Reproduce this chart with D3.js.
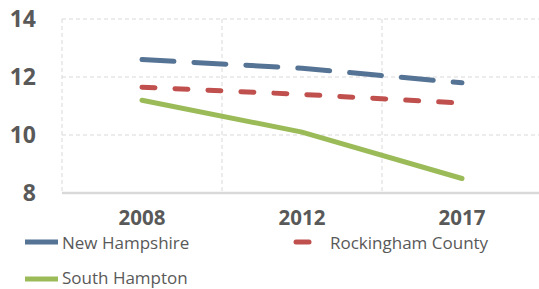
<!DOCTYPE html>
<html>
<head>
<meta charset="utf-8">
<script src="https://cdn.jsdelivr.net/npm/d3@7"></script>
<style>
  body { margin: 0; background: #fff; }
  svg { display: block; }
</style>
</head>
<body>
<div id="chart"></div>
<script>
// chart data
var years = ["2008", "2012", "2017"];
var newHampshire = [12.6, 12.3, 11.8];
var rockingham = [11.65, 11.4, 11.1];
var southHampton = [11.2, 10.1, 8.5];
var yTicks = [8, 10, 12, 14];

var WIDTH = 539, HEIGHT = 289;
var series = [
    { name: "New Hampshire", values: newHampshire, color: "#557394", dash: "32,20" },
    { name: "Rockingham County", values: rockingham, color: "#c0504d", dash: "13,20" },
    { name: "South Hampton", values: southHampton, color: "#9bbb59", dash: null }
];

var svg = d3.select("#chart").append("svg")
    .attr("width", WIDTH)
    .attr("height", HEIGHT);

var x = d3.scaleBand().domain(years).range([62, 542]);
var y = d3.scaleLinear().domain([8, 14]).range([193, 19]);
var cx = function (d) { return x(d) + x.bandwidth() / 2; };

// horizontal gridlines
svg.append("g").selectAll("line")
    .data(yTicks.filter(function (d) { return d > 8; }))
    .enter().append("line")
    .attr("x1", 62).attr("x2", 542)
    .attr("y1", function (d) { return y(d); })
    .attr("y2", function (d) { return y(d); })
    .attr("stroke", "#d9d9d9")
    .attr("stroke-dasharray", "4,3");

// vertical gridlines at category edges
svg.append("g").selectAll("line")
    .data(years)
    .enter().append("line")
    .attr("x1", function (d) { return x(d); })
    .attr("x2", function (d) { return x(d); })
    .attr("y1", y(14)).attr("y2", y(8))
    .attr("stroke", "#d9d9d9")
    .attr("stroke-dasharray", "4,3");

// baseline
svg.append("line")
    .attr("x1", 62).attr("x2", 542)
    .attr("y1", y(8)).attr("y2", y(8))
    .attr("stroke", "#d9d9d9")
    .attr("stroke-width", 2.5);

// y labels
svg.append("g").selectAll("text")
    .data(yTicks)
    .enter().append("text")
    .attr("x", 36)
    .attr("y", function (d) { return y(d); })
    .attr("dy", "0.36em")
    .attr("text-anchor", "end")
    .attr("font-family", "'Open Sans', sans-serif")
    .attr("font-weight", "bold")
    .attr("font-size", 23)
    .attr("fill", "#595959")
    .text(function (d) { return d; });

// x labels
svg.append("g").selectAll("text")
    .data(years)
    .enter().append("text")
    .attr("x", cx)
    .attr("y", 224.5)
    .attr("text-anchor", "middle")
    .attr("font-family", "'Open Sans', sans-serif")
    .attr("font-weight", "bold")
    .attr("font-size", 20.5)
    .attr("fill", "#595959")
    .text(function (d) { return d; });

// lines
var line = d3.line()
    .x(function (d, i) { return cx(years[i]); })
    .y(function (d) { return y(d); });

svg.append("g").selectAll("path")
    .data(series)
    .enter().append("path")
    .attr("d", function (s) { return line(s.values); })
    .attr("fill", "none")
    .attr("stroke", function (s) { return s.color; })
    .attr("stroke-width", 5)
    .attr("stroke-linecap", "round")
    .attr("stroke-dasharray", function (s) { return s.dash; });

// legend
var legendPos = [
    { lx1: 25, lx2: 58, ly: 242, tx: 62, ty: 249 },
    { lx1: 296, lx2: 309, ly: 242, tx: 330, ty: 249 },
    { lx1: 25, lx2: 58, ly: 279, tx: 62, ty: 284 }
];
var legend = svg.append("g").selectAll("g")
    .data(series)
    .enter().append("g");

legend.append("line")
    .attr("x1", function (s, i) { return legendPos[i].lx1; })
    .attr("x2", function (s, i) { return legendPos[i].lx2; })
    .attr("y1", function (s, i) { return legendPos[i].ly; })
    .attr("y2", function (s, i) { return legendPos[i].ly; })
    .attr("stroke", function (s) { return s.color; })
    .attr("stroke-width", 5)
    .attr("stroke-linecap", function (s, i) { return i == 1 ? "round" : "butt"; });

legend.append("text")
    .attr("x", function (s, i) { return legendPos[i].tx; })
    .attr("y", function (s, i) { return legendPos[i].ty; })
    .attr("font-family", "'Open Sans', sans-serif")
    .attr("font-size", 17)
    .attr("fill", "#595959")
    .text(function (s) { return s.name; });
</script>
</body>
</html>
